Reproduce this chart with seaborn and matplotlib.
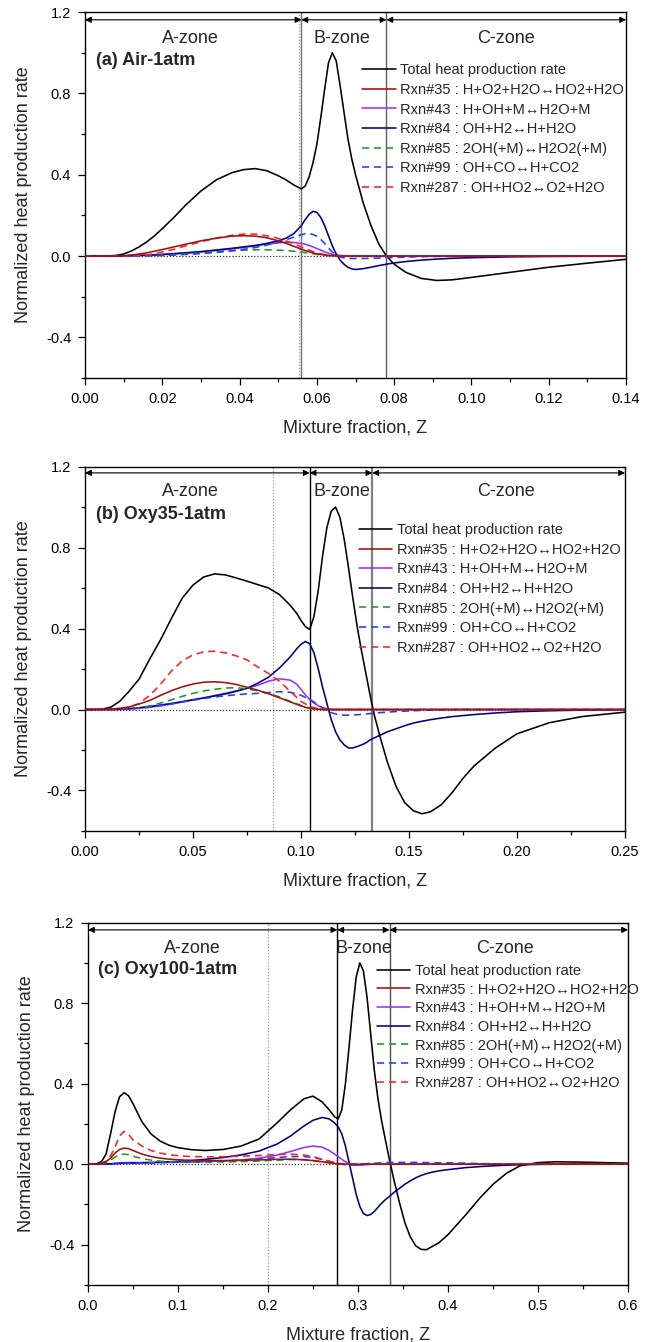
import matplotlib
matplotlib.use("Agg")
import matplotlib.pyplot as plt
import seaborn as sns
from matplotlib.ticker import MultipleLocator, FormatStrFormatter

# ---------------- data: panel (a) Air-1atm ----------------
xa = [0, 0.005, 0.008, 0.010, 0.012, 0.014, 0.016, 0.018, 0.020, 0.023,
      0.026, 0.030, 0.034, 0.038, 0.041, 0.044, 0.047, 0.050, 0.052, 0.054,
      0.056, 0.057, 0.058, 0.059, 0.060, 0.061, 0.062, 0.063, 0.064, 0.065,
      0.066, 0.067, 0.068, 0.069, 0.070, 0.072, 0.074, 0.076, 0.078, 0.080,
      0.083, 0.087, 0.091, 0.095, 0.100, 0.110, 0.120, 0.130, 0.140]
tot_a = [0, 0, 0.003, 0.01, 0.025, 0.045, 0.07, 0.10, 0.135, 0.19,
         0.25, 0.32, 0.375, 0.41, 0.425, 0.43, 0.42, 0.395, 0.375, 0.35,
         0.33, 0.345, 0.39, 0.46, 0.55, 0.68, 0.82, 0.95, 1.0, 0.96,
         0.84, 0.71, 0.58, 0.48, 0.40, 0.26, 0.15, 0.06, 0.0, -0.04,
         -0.08, -0.11, -0.12, -0.117, -0.105, -0.08, -0.055, -0.035, -0.016]
r35_a = [0, 0, 0, 0.002, 0.005, 0.01, 0.016, 0.024, 0.032, 0.045,
         0.058, 0.075, 0.088, 0.098, 0.10, 0.098, 0.09, 0.075, 0.063, 0.048,
         0.034, 0.027, 0.021, 0.015, 0.011, 0.008, 0.005, 0.003, 0.002, 0.001] + [0.0] * 19
r43_a = [0, 0, 0, 0.001, 0.002, 0.003, 0.004, 0.005, 0.007, 0.01,
         0.014, 0.02, 0.027, 0.035, 0.042, 0.05, 0.058, 0.065, 0.068, 0.067,
         0.062, 0.058, 0.052, 0.045, 0.037, 0.029, 0.021, 0.014, 0.009, 0.005,
         0.003, 0.002, 0.001] + [0.0] * 16
r84_a = [0, 0, 0, 0.001, 0.002, 0.003, 0.004, 0.006, 0.008, 0.012,
         0.016, 0.022, 0.03, 0.038, 0.045, 0.052, 0.062, 0.075, 0.088, 0.11,
         0.15, 0.18, 0.205, 0.22, 0.215, 0.19, 0.15, 0.10, 0.05, 0.01,
         -0.02, -0.04, -0.055, -0.063, -0.066, -0.062, -0.055, -0.047, -0.04, -0.034,
         -0.027, -0.02, -0.015, -0.011, -0.008, -0.004, -0.002, -0.001, 0]
r85_a = [0, 0, 0, 0, 0, 0.001, 0.002, 0.003, 0.004, 0.007,
         0.01, 0.015, 0.021, 0.026, 0.029, 0.031, 0.031, 0.029, 0.027, 0.024,
         0.02, 0.017, 0.014, 0.011, 0.008, 0.006, 0.004, 0.002, 0.001] + [0.0] * 20
r99_a = [0, 0, 0, 0, 0, 0.001, 0.001, 0.002, 0.003, 0.005,
         0.008, 0.012, 0.018, 0.026, 0.033, 0.042, 0.054, 0.068, 0.08, 0.093,
         0.105, 0.11, 0.11, 0.106, 0.097, 0.082, 0.062, 0.04, 0.02, 0.005,
         -0.004, -0.009, -0.011, -0.012, -0.012, -0.012, -0.011, -0.01, -0.008, -0.007,
         -0.005, -0.003, -0.002, -0.001, 0, 0, 0, 0, 0]
r287_a = [0, 0, 0, 0, 0.001, 0.003, 0.005, 0.012, 0.02, 0.033,
          0.05, 0.07, 0.088, 0.102, 0.108, 0.108, 0.10, 0.087, 0.075, 0.06,
          0.045, 0.037, 0.029, 0.022, 0.016, 0.011, 0.007, 0.004, 0.002, 0.001] + [0.0] * 19

# ---------------- data: panel (b) Oxy35-1atm ----------------
xb = [0, 0.005, 0.008, 0.012, 0.016, 0.020, 0.025, 0.030, 0.035, 0.040,
      0.045, 0.050, 0.055, 0.060, 0.065, 0.070, 0.075, 0.080, 0.085, 0.090,
      0.095, 0.098, 0.100, 0.102, 0.104, 0.106, 0.108, 0.110, 0.112, 0.114,
      0.116, 0.118, 0.120, 0.122, 0.124, 0.126, 0.128, 0.130, 0.132, 0.134,
      0.137, 0.140, 0.144, 0.148, 0.152, 0.156, 0.160, 0.165, 0.170, 0.175,
      0.180, 0.190, 0.200, 0.215, 0.230, 0.250]
tot_b = [0, 0, 0.002, 0.012, 0.04, 0.085, 0.15, 0.25, 0.345, 0.45,
         0.55, 0.615, 0.655, 0.67, 0.665, 0.65, 0.634, 0.617, 0.60, 0.568,
         0.515, 0.475, 0.44, 0.41, 0.395, 0.46, 0.59, 0.76, 0.90, 0.98,
         1.0, 0.95, 0.84, 0.70, 0.55, 0.41, 0.29, 0.18, 0.07, -0.03,
         -0.15, -0.26, -0.38, -0.46, -0.50, -0.515, -0.505, -0.47, -0.41, -0.34,
         -0.28, -0.19, -0.12, -0.065, -0.035, -0.013]
r35_b = [0, 0, 0, 0.002, 0.006, 0.012, 0.027, 0.045, 0.07, 0.093,
         0.112, 0.126, 0.135, 0.137, 0.133, 0.124, 0.11, 0.095, 0.078, 0.058,
         0.038, 0.026, 0.018, 0.011, 0.006, 0.003, 0.001, 0.0] + [0.0] * 28
r43_b = [0, 0, 0, 0, 0.001, 0.003, 0.006, 0.011, 0.018, 0.027,
         0.037, 0.048, 0.058, 0.069, 0.08, 0.092, 0.105, 0.12, 0.14, 0.152,
         0.145, 0.125, 0.1, 0.072, 0.05, 0.032, 0.018, 0.009, 0.004, 0.001] + [0.0] * 26
r84_b = [0, 0, 0, 0, 0.001, 0.004, 0.009, 0.015, 0.022, 0.03,
         0.039, 0.048, 0.057, 0.067, 0.077, 0.09, 0.105, 0.13, 0.16, 0.205,
         0.26, 0.3, 0.322, 0.336, 0.325, 0.28, 0.2, 0.11, 0.03, -0.05,
         -0.11, -0.15, -0.175, -0.19, -0.19, -0.183, -0.175, -0.165, -0.15, -0.14,
         -0.125, -0.11, -0.095, -0.08, -0.067, -0.058, -0.05, -0.042, -0.035, -0.03,
         -0.025, -0.017, -0.011, -0.006, -0.003, -0.001]
r85_b = [0, 0, 0, 0, 0, 0.002, 0.008, 0.018, 0.032, 0.048,
         0.065, 0.08, 0.092, 0.1, 0.106, 0.108, 0.102, 0.092, 0.08, 0.062,
         0.04, 0.028, 0.02, 0.012, 0.007, 0.004, 0.002, 0.001] + [0.0] * 28
r99_b = [0, 0, 0, 0, 0, 0.002, 0.006, 0.012, 0.02, 0.028,
         0.037, 0.046, 0.054, 0.062, 0.068, 0.073, 0.077, 0.08, 0.084, 0.088,
         0.085, 0.078, 0.07, 0.06, 0.05, 0.037, 0.022, 0.008, -0.005, -0.015,
         -0.022, -0.026, -0.028, -0.028, -0.027, -0.026, -0.024, -0.022, -0.02, -0.018,
         -0.015, -0.013, -0.01, -0.008, -0.006, -0.004, -0.003, -0.002, -0.001, 0,
         0, 0, 0, 0, 0, 0]
r287_b = [0, 0, 0, 0.001, 0.004, 0.01, 0.03, 0.07, 0.125, 0.19,
          0.24, 0.27, 0.285, 0.288, 0.28, 0.265, 0.245, 0.21, 0.178, 0.14,
          0.09, 0.06, 0.04, 0.028, 0.016, 0.009, 0.004, 0.002, 0.001] + [0.0] * 27

# ---------------- data: panel (c) Oxy100-1atm ----------------
xc = [0, 0.005, 0.010, 0.015, 0.020, 0.025, 0.030, 0.035, 0.040, 0.045,
      0.050, 0.060, 0.070, 0.080, 0.090, 0.100, 0.115, 0.130, 0.150, 0.170,
      0.190, 0.210, 0.225, 0.240, 0.250, 0.260, 0.268, 0.274, 0.278, 0.282,
      0.286, 0.290, 0.294, 0.298, 0.302, 0.306, 0.310, 0.314, 0.318, 0.322,
      0.326, 0.330, 0.335, 0.340, 0.346, 0.352, 0.358, 0.364, 0.370, 0.376,
      0.382, 0.390, 0.400, 0.410, 0.420, 0.435, 0.450, 0.465, 0.480, 0.500,
      0.520, 0.550, 0.600]
tot_c = [0, 0, 0.003, 0.013, 0.05, 0.15, 0.26, 0.335, 0.355, 0.34,
         0.30, 0.21, 0.15, 0.115, 0.094, 0.082, 0.072, 0.068, 0.073, 0.09,
         0.125, 0.205, 0.27, 0.325, 0.338, 0.31, 0.27, 0.235, 0.225, 0.27,
         0.4, 0.58, 0.77, 0.93, 1.0, 0.96, 0.83, 0.65, 0.47, 0.33,
         0.22, 0.13, 0.02, -0.08, -0.19, -0.29, -0.36, -0.405, -0.423, -0.425,
         -0.41, -0.39, -0.35, -0.3, -0.25, -0.17, -0.1, -0.045, -0.008, 0.008,
         0.012, 0.01, 0.005]
r35_c = [0, 0, 0.001, 0.004, 0.012, 0.03, 0.055, 0.073, 0.08, 0.077,
         0.068, 0.05, 0.038, 0.03, 0.025, 0.022, 0.019, 0.018, 0.018, 0.019,
         0.021, 0.024, 0.025, 0.022, 0.018, 0.012, 0.007, 0.004, 0.002, 0.001] + [0.0] * 33
r43_c = [0, 0, 0, 0, 0.001, 0.002, 0.004, 0.006, 0.007, 0.008,
         0.008, 0.008, 0.008, 0.008, 0.009, 0.01, 0.011, 0.013, 0.016, 0.021,
         0.03, 0.045, 0.063, 0.083, 0.09, 0.085, 0.068, 0.05, 0.037, 0.024,
         0.012, 0.003, -0.003, -0.005, -0.005, -0.004, -0.002, -0.001] + [0.0] * 25
r84_c = [0, 0, 0, 0, 0.001, 0.002, 0.003, 0.004, 0.005, 0.005,
         0.006, 0.007, 0.008, 0.01, 0.012, 0.014, 0.018, 0.024, 0.033, 0.046,
         0.065, 0.1, 0.14, 0.19, 0.218, 0.232, 0.225, 0.205, 0.185, 0.15,
         0.09, 0.01, -0.07, -0.15, -0.21, -0.245, -0.255, -0.25, -0.235, -0.215,
         -0.195, -0.178, -0.16, -0.14, -0.12, -0.1, -0.083, -0.068, -0.056, -0.047,
         -0.04, -0.033, -0.027, -0.022, -0.017, -0.012, -0.008, -0.005, -0.003, -0.001,
         0, 0, 0]
r85_c = [0, 0, 0, 0.002, 0.008, 0.02, 0.035, 0.046, 0.05, 0.047,
         0.04, 0.028, 0.02, 0.015, 0.012, 0.011, 0.01, 0.01, 0.011, 0.013,
         0.016, 0.02, 0.023, 0.022, 0.018, 0.012, 0.007, 0.004, 0.002, 0.001] + [0.0] * 33
r99_c = [0, 0, 0, 0.001, 0.001, 0.002, 0.003, 0.003, 0.004, 0.004,
         0.005, 0.006, 0.007, 0.008, 0.009, 0.01, 0.011, 0.013, 0.016, 0.02,
         0.026, 0.033, 0.038, 0.038, 0.033, 0.024, 0.015, 0.008, 0.004, 0.0,
         -0.003, -0.004, -0.004, -0.003, -0.001, 0.001, 0.003, 0.004, 0.005, 0.006,
         0.007, 0.008, 0.009, 0.009, 0.009, 0.009, 0.009, 0.009, 0.009, 0.008,
         0.008, 0.007, 0.007, 0.006, 0.005, 0.003, 0.002, 0.001, 0.001, 0,
         0, 0, 0]
r287_c = [0, 0, 0.001, 0.005, 0.015, 0.04, 0.085, 0.14, 0.163, 0.148,
          0.12, 0.09, 0.068, 0.055, 0.047, 0.042, 0.038, 0.036, 0.037, 0.04,
          0.043, 0.048, 0.05, 0.045, 0.038, 0.024, 0.014, 0.007, 0.004, 0.002,
          0.001] + [0.0] * 32

series_labels = ["Total heat production rate",
                 "Rxn#35 : H+O2+H2O\u2194HO2+H2O",
                 "Rxn#43 : H+OH+M\u2194H2O+M",
                 "Rxn#84 : OH+H2\u2194H+H2O",
                 "Rxn#85 : 2OH(+M)\u2194H2O2(+M)",
                 "Rxn#99 : OH+CO\u2194H+CO2",
                 "Rxn#287 : OH+HO2\u2194O2+H2O"]
series_colors = ["#000000", "#A01010", "#9B30FF", "#000080", "#1E9A1E", "#1F3FFF", "#FF2020"]
series_dashed = [False, False, False, False, True, True, True]

panel_titles = ["(a) Air-1atm", "(b) Oxy35-1atm", "(c) Oxy100-1atm"]
zone_names = ["A-zone", "B-zone", "C-zone"]

# zone boundaries: dotted line, A/B boundary, B/C boundary, x max
bounds_a = [0.0555, 0.056, 0.078, 0.14]
bounds_b = [0.087, 0.104, 0.133, 0.25]
bounds_c = [0.2, 0.277, 0.335, 0.6]

# ---------------- style ----------------
sns.set_theme(style="ticks")
plt.rcParams["font.family"] = ["Liberation Sans", "DejaVu Sans"]
plt.rcParams["axes.unicode_minus"] = False

fig = plt.figure(figsize=(6.55, 13.42), dpi=100)

panels = [
    dict(x=xa, ys=[tot_a, r35_a, r43_a, r84_a, r85_a, r99_a, r287_a], b=bounds_a,
         rect=[0.1298, 0.7183, 0.826, 0.2727], major=0.02, minor=0.01, fmt="%.2f",
         arr_y=1.162, zone_y=1.07, zone_x=[0.0273, 0.0666, 0.109], title_xy=(0.0028, 0.963),
         ab_color="#707070", bc_color="#606060", bc_lw=1.0,
         leg=(0.512, 0.860), spacing=0.385),
    dict(x=xb, ys=[tot_b, r35_b, r43_b, r84_b, r85_b, r99_b, r287_b], b=bounds_b,
         rect=[0.1298, 0.3808, 0.8244, 0.2715], major=0.05, minor=0.025, fmt="%.2f",
         arr_y=1.169, zone_y=1.078, zone_x=[0.0488, 0.119, 0.195], title_xy=(0.0052, 0.963),
         ab_color="#000000", bc_color="#808080", bc_lw=1.6,
         leg=(0.507, 0.845), spacing=0.385),
    dict(x=xc, ys=[tot_c, r35_c, r43_c, r84_c, r85_c, r99_c, r287_c], b=bounds_c,
         rect=[0.1344, 0.0425, 0.8244, 0.2700], major=0.1, minor=0.05, fmt="%.1f",
         arr_y=1.164, zone_y=1.073, zone_x=[0.116, 0.307, 0.463], title_xy=(0.0116, 0.965),
         ab_color="#000000", bc_color="#505050", bc_lw=1.0,
         leg=(0.535, 0.886), spacing=0.32),
]

for i, p in enumerate(panels):
    ax = fig.add_axes(p["rect"])
    x = p["x"]
    xmax = p["b"][3]
    dot_x, ab_x, bc_x = p["b"][0], p["b"][1], p["b"][2]

    ax.axhline(0, color="#333333", lw=0.9, ls=(0, (1, 1.5)), zorder=1)
    ax.axvline(dot_x, color="#999999", lw=0.9, ls=(0, (1, 1.5)), zorder=1)
    ax.axvline(ab_x, color=p["ab_color"], lw=1.0, zorder=1)
    ax.axvline(bc_x, color=p["bc_color"], lw=p["bc_lw"], zorder=1)

    for j, (y, lab, col, dsh) in enumerate(zip(p["ys"], series_labels, series_colors, series_dashed)):
        kw = dict(lw=1.15)
        if dsh:
            kw["linestyle"] = (0, (4.5, 3))
        z = 3 if j == 1 else 2
        sns.lineplot(x=x, y=y, ax=ax, color=col, label=lab, sort=False,
                     estimator=None, zorder=z, **kw)

    # zone arrows
    zone_edges = [(0, ab_x), (ab_x, bc_x), (bc_x, xmax)]
    for (x0, x1), name, zx in zip(zone_edges, zone_names, p["zone_x"]):
        ax.annotate("", xy=(x1, p["arr_y"]), xytext=(x0, p["arr_y"]),
                    arrowprops=dict(arrowstyle="<|-|>", color="black", lw=0.8,
                                    shrinkA=0, shrinkB=0, mutation_scale=9))
        ax.text(zx, p["zone_y"], name, ha="center", va="center", fontsize=13)

    ax.text(p["title_xy"][0], p["title_xy"][1], panel_titles[i], ha="left", va="center",
            fontsize=13, fontweight="bold")

    ax.set_xlim(0, xmax)
    ax.set_ylim(-0.6, 1.2)
    ax.xaxis.set_major_locator(MultipleLocator(p["major"]))
    ax.xaxis.set_minor_locator(MultipleLocator(p["minor"]))
    ax.xaxis.set_major_formatter(FormatStrFormatter(p["fmt"]))
    ax.yaxis.set_major_locator(MultipleLocator(0.4))
    ax.yaxis.set_minor_locator(MultipleLocator(0.2))
    ax.yaxis.set_major_formatter(FormatStrFormatter("%.1f"))
    ax.tick_params(which="both", direction="out", top=False, right=False,
                   labelsize=10.5, width=0.9, colors="black", pad=5)
    ax.tick_params(which="major", length=5)
    ax.tick_params(which="minor", length=3)
    for s in ax.spines.values():
        s.set_color("black")
        s.set_linewidth(1.0)
        s.set_visible(True)
    ax.set_xlabel("Mixture fraction, Z", fontsize=13, labelpad=10)
    ax.set_ylabel("Normalized heat production rate", fontsize=13, labelpad=10)
    ax.grid(False)

    ax.legend(loc="upper left", bbox_to_anchor=p["leg"], frameon=False, fontsize=10.5,
              handlelength=2.3, handletextpad=0.3, labelspacing=p["spacing"],
              borderpad=0, borderaxespad=0)

fig.savefig("out.png", dpi=100)
